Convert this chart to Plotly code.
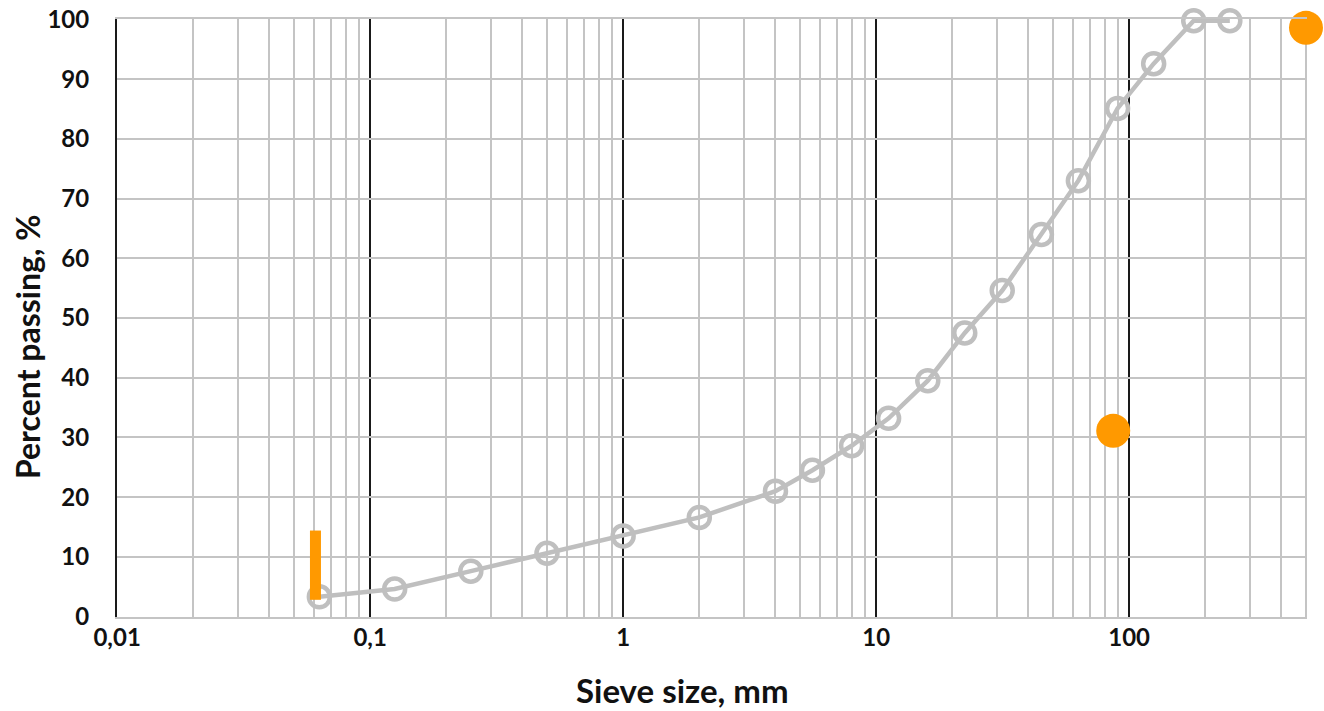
import math
import plotly.graph_objects as go

# Data
sieve_mm = [0.063, 0.125, 0.25, 0.5, 1, 2, 4, 5.6, 8, 11.2, 16, 22.4, 31.5, 45, 63, 90, 125, 180, 250]
passing = [3.3, 4.6, 7.6, 10.6, 13.5, 16.6, 21.0, 24.5, 28.6, 33.2, 39.5, 47.5, 54.6, 64.0, 73.0, 85.1, 92.6, 99.8, 99.8]

orange_pts_x = [86.5, 500]
orange_pts_y = [31.1, 98.6]

bar_x = [0.0608, 0.0608]
bar_y = [2.8, 14.4]

x_major = [0.01, 0.1, 1, 10, 100]
x_major_text = ["0,01", "0,1", "1", "10", "100"]
x_minor = [m * d for d in [0.01, 0.1, 1, 10, 100] for m in range(2, 10) if m * d <= 500.0001]

y_ticks = list(range(0, 101, 10))

x_title = "Sieve size, mm"
y_title = "Percent passing, %"

FONT = "Lato, 'Open Sans', Arial, sans-serif"

fig = go.Figure()
fig.add_trace(go.Scatter(
    x=sieve_mm, y=passing, mode="lines+markers",
    line=dict(color="#bfbfbf", width=4.5),
    marker=dict(symbol="circle-open", size=21, color="#bfbfbf", line=dict(width=4.5, color="#bfbfbf")),
    showlegend=False, cliponaxis=False,
))
fig.add_trace(go.Scatter(
    x=bar_x, y=bar_y, mode="lines",
    line=dict(color="#ff9900", width=11),
    showlegend=False,
))
fig.add_trace(go.Scatter(
    x=orange_pts_x, y=orange_pts_y, mode="markers",
    marker=dict(size=34, color="#ff9900"),
    showlegend=False, cliponaxis=False,
))

fig.update_layout(
    width=1324, height=711,
    margin=dict(l=117, r=17, t=19, b=94),
    paper_bgcolor="white", plot_bgcolor="white",
    font=dict(family=FONT, color="#111111"),
    xaxis=dict(
        type="log", range=[-2.0005, math.log10(500) + 0.004], automargin=False,
        tickvals=x_major, ticktext=x_major_text,
        tickfont=dict(size=24, family=FONT, weight="bold"),
        showgrid=True, gridcolor="#1a1a1a", gridwidth=2,
        minor=dict(tickvals=x_minor, showgrid=True, gridcolor="#c4c4c4", gridwidth=2, ticks=""),
        zeroline=False, showline=True, linecolor="#c4c4c4", linewidth=2, mirror=True,
        ticks="", ticklabelstandoff=-2,
        ticklabeloverflow="allow",
    ),
    yaxis=dict(
        range=[-0.08, 100.08], tickvals=y_ticks, automargin=False,
        tickfont=dict(size=24, family=FONT, weight="bold"),
        showgrid=True, gridcolor="#c4c4c4", gridwidth=2,
        zeroline=False, showline=True, linecolor="#1a1a1a", linewidth=2, mirror=False,
        ticks="outside", ticklen=21, tickcolor="rgba(0,0,0,0)",
        ticklabeloverflow="allow",
    ),
    annotations=[
        dict(text=f"<b>{x_title}</b>", xref="paper", yref="paper", x=0.4748, y=-0.122,
             xanchor="center", yanchor="middle", showarrow=False,
             font=dict(size=33, family=FONT, color="#111111")),
        dict(text=f"<b>{y_title}</b>", xref="paper", yref="paper", x=-0.0756, y=0.4515,
             xanchor="center", yanchor="middle", showarrow=False, textangle=-90,
             font=dict(size=32, family=FONT, color="#111111")),
    ],
)

fig.write_html(
    "out.html",
    config={"displayModeBar": False},
    post_script="document.body.style.margin='0px';window.dispatchEvent(new Event('resize'));",
)
